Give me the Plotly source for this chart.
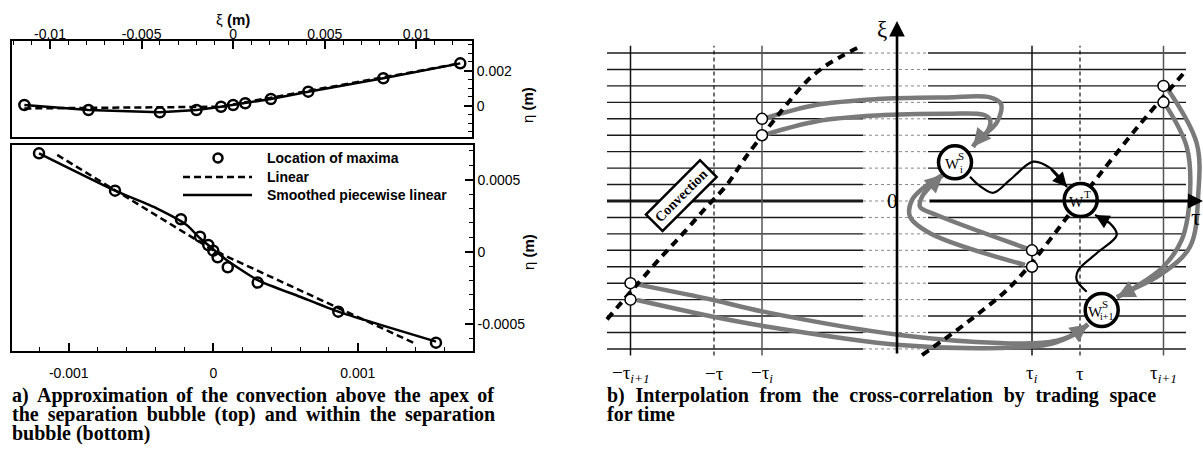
import plotly.graph_objects as go

# ---------------- Panel a) data ----------------
top_xi = [-0.0114, -0.0079, -0.0040, -0.0020, -0.00066, 0.0, 0.00066, 0.00206, 0.0041, 0.0082, 0.0124]
top_eta = [0.00004, -0.00025, -0.00038, -0.00025, -0.00006, 0.00004, 0.00014, 0.00038, 0.0008, 0.00157, 0.00242]
top_lin_xi = [-0.0114, -0.00066, 0.0124]
top_lin_eta = [-0.00016, -0.00006, 0.00242]

bot_xi = [-0.001206, -0.00068, -0.000224, -0.000092, -0.000035, 0.0, 0.00003, 0.0001, 0.000307, 0.000865, 0.001541]
bot_eta = [0.000683, 0.000424, 0.000225, 0.000104, 0.0000465, 0.000007, -0.000039, -0.000108, -0.000215, -0.000417, -0.000632]
bot_lin_xi = [-0.00108, 0.0, 0.001384]
bot_lin_eta = [0.000672, 0.00001, -0.000632]
bot_smooth_xi = [-0.001206, -0.00068, -0.000392, -0.000184, -0.000092, 0.0, 0.000092, 0.000307, 0.0006, 0.000865, 0.001541]
bot_smooth_eta = [0.000683, 0.000424, 0.000301, 0.000185, 0.000093, 0.000017, -0.000058, -0.000197, -0.000313, -0.000417, -0.000625]

top_x_tickvals = [-0.01, -0.005, 0, 0.005, 0.01]
top_x_ticktext = ["-0.01", "-0.005", "0", "0.005", "0.01"]
top_y_tickvals = [0, 0.002]
top_y_ticktext = ["0", "0.002"]
bot_x_tickvals = [-0.001, 0, 0.001]
bot_x_ticktext = ["-0.001", "0", "0.001"]
bot_y_tickvals = [-0.0005, 0, 0.0005]
bot_y_ticktext = ["-0.0005", "0", "0.0005"]

legend_labels = ["Location of maxima", "Linear", "Smoothed piecewise linear"]

# ---------------- Panel b) schematic data (tau units, xi grid levels) ----------------
tau_tick_vals = [-2.665, -1.83, -1.35, 1.35, 1.83, 2.665]
tau_tick_text = ["−τ<sub><i>i+1</i></sub>", "−τ", "−τ<sub><i>i</i></sub>",
                 "τ<sub><i>i</i></sub>", "τ", "τ<sub><i>i+1</i></sub>"]
tau_tick_dashed = [False, True, False, False, True, False]
tau_tick_color = ["#111111", "#111111", "#555555", "#111111", "#111111", "#555555"]
xi_levels = [-9, -8, -7, -6, -5, -4, -3, -2, -1, 0, 1, 2, 3, 4, 5, 6, 7, 8, 9]

circ_tau = [-2.665, -2.665, -1.35, -1.35, 1.35, 1.35, 2.665, 2.665]
circ_xi = [-5, -6, 5, 4, -3, -4, 7, 6]

conv_left_tau = [-2.90, -2.37, -2.137, -1.903, -1.703, -1.52, -1.27, -1.10, -0.90, -0.72, -0.54, -0.37]
conv_left_xi = [-7.2, -3.49, -1.96, -0.35, 0.97, 2.6, 4.6, 5.9, 7.3, 8.2, 8.85, 9.39]
conv_right_tau = [0.25, 0.60, 0.86, 1.10, 1.33, 1.53, 1.73, 2.0, 2.40, 2.88]
conv_right_xi = [-9.37, -7.85, -6.63, -5.41, -3.9, -2.35, -0.75, 1.4, 4.45, 7.86]

# gray "trading space for time" paths
ga1_tau = [-1.31, -0.8, -0.2, 0.5, 0.93, 1.04, 1.0, 0.82, 0.76]
ga1_xi = [5.05, 5.85, 6.2, 6.3, 6.3, 5.9, 4.8, 3.75, 3.3]
ga2_tau = [-1.31, -0.8, -0.2, 0.5, 0.86, 0.93, 0.9, 0.80, 0.76]
ga2_xi = [4.05, 4.85, 5.2, 5.3, 5.25, 4.95, 4.2, 3.65, 3.3]

gb1_tau = [-2.60, -1.837, -1.337, 0.03, 1.03, 1.53, 1.78, 1.91]
gb1_xi = [-5.07, -6.02, -6.73, -8.15, -8.64, -8.58, -8.09, -7.5]
gb2_tau = [-2.60, -1.837, -1.337, 0.03, 1.03, 1.53, 1.78, 1.91]
gb2_xi = [-6.02, -7.04, -7.60, -8.76, -8.94, -8.7, -8.09, -7.5]

gc1_tau = [2.713, 2.997, 3.013, 2.93, 2.63, 2.33, 2.20]
gc1_xi = [6.75, 3.51, 0.47, -2.78, -4.5, -5.45, -5.85]
gc2_tau = [2.697, 2.897, 2.93, 2.847, 2.663, 2.38, 2.20]
gc2_xi = [5.74, 3.30, 0.47, -2.37, -4.0, -5.25, -5.85]

gd1_tau = [1.297, 0.397, 0.23, 0.25, 0.33, 0.46]
gd1_xi = [-2.88, -0.85, -0.35, 0.26, 0.87, 1.6]
gd2_tau = [1.28, 0.33, 0.13, 0.15, 0.28, 0.46]
gd2_xi = [-3.89, -1.96, -0.95, 0.06, 0.87, 1.6]

# black wavy arrows
be_tau = [0.73, 0.83, 0.963, 1.13, 1.363, 1.53, 1.70]
be_xi = [1.48, 0.91, 0.50, 1.28, 2.39, 2.01, 0.85]
bf_tau = [1.897, 1.797, 1.813, 1.997, 2.197, 2.13, 1.98]
bf_xi = [-5.52, -4.8, -4.2, -3.18, -2.07, -1.36, -0.85]

node_tau = [0.58, 1.837, 2.047]
node_xi = [2.35, 0.06, -6.63]

SERIF = "Liberation Serif"
SANS = "Liberation Sans"
GRAY = "#7a7a7a"
HAIR = "\u200a"
THIN = "\u2009"

fig = go.Figure()

# ---- top panel ----
fig.add_trace(go.Scatter(x=top_lin_xi, y=top_lin_eta, mode="lines",
                         line=dict(color="black", width=2.5, dash="7px,4px"),
                         xaxis="x", yaxis="y", showlegend=False))
fig.add_trace(go.Scatter(x=top_xi, y=top_eta, mode="lines",
                         line=dict(color="black", width=2.5),
                         xaxis="x", yaxis="y", showlegend=False))
fig.add_trace(go.Scatter(x=top_xi, y=top_eta, mode="markers",
                         marker=dict(symbol="circle-open", size=10, color="black", line=dict(width=2.5)),
                         xaxis="x", yaxis="y", showlegend=False))

# ---- bottom panel ----
fig.add_trace(go.Scatter(x=bot_lin_xi, y=bot_lin_eta, mode="lines",
                         line=dict(color="black", width=2.5, dash="7px,4px"),
                         xaxis="x2", yaxis="y2", showlegend=False))
fig.add_trace(go.Scatter(x=bot_smooth_xi, y=bot_smooth_eta, mode="lines",
                         line=dict(color="black", width=2.5, shape="spline", smoothing=0.6),
                         xaxis="x2", yaxis="y2", showlegend=False))
fig.add_trace(go.Scatter(x=bot_xi, y=bot_eta, mode="markers",
                         marker=dict(symbol="circle-open", size=10, color="black", line=dict(width=2.5)),
                         xaxis="x2", yaxis="y2", showlegend=False))

# ---- schematic ----
def ds(**kw):
    return dict(xaxis="x3", yaxis="y3", showlegend=False, hoverinfo="skip", **kw)

for t, x in [(ga1_tau, ga1_xi), (ga2_tau, ga2_xi), (gb1_tau, gb1_xi), (gb2_tau, gb2_xi),
             (gc1_tau, gc1_xi), (gc2_tau, gc2_xi), (gd1_tau, gd1_xi), (gd2_tau, gd2_xi)]:
    fig.add_trace(go.Scatter(x=t, y=x, mode="lines",
                             line=dict(color=GRAY, width=4.5, shape="spline", smoothing=1.0), **ds()))

fig.add_trace(go.Scatter(x=conv_left_tau, y=conv_left_xi, mode="lines",
                         line=dict(color="black", width=4, dash="8px,6px", shape="spline"), **ds()))
fig.add_trace(go.Scatter(x=conv_right_tau, y=conv_right_xi, mode="lines",
                         line=dict(color="black", width=4, dash="8px,6px", shape="spline"), **ds()))

for t, x in [(be_tau, be_xi), (bf_tau, bf_xi)]:
    fig.add_trace(go.Scatter(x=t, y=x, mode="lines",
                             line=dict(color="black", width=2.2, shape="spline", smoothing=1.0), **ds()))

fig.add_trace(go.Scatter(x=circ_tau, y=circ_xi, mode="markers",
                         marker=dict(symbol="circle", size=11, color="white", line=dict(color="black", width=1.5)),
                         **ds()))
fig.add_trace(go.Scatter(x=node_tau, y=node_xi, mode="markers",
                         marker=dict(symbol="circle", size=33, color="white", line=dict(color="black", width=3.5)),
                         **ds()))

shapes = []
annotations = []


def ann(**kw):
    kw.setdefault("xanchor", "center")
    kw.setdefault("yanchor", "middle")
    kw.setdefault("showarrow", False)
    annotations.append(kw)


# grid lines
grid_left, gap_left, gap_right, grid_right = -2.90, -0.34, 0.31, 2.89
for lv in xi_levels:
    w = 3 if lv == 0 else 1.4
    shapes.append(dict(type="line", xref="x3", yref="y3", x0=grid_left, x1=gap_left, y0=lv, y1=lv,
                       line=dict(color="#1a1a1a", width=w), layer="below"))
    shapes.append(dict(type="line", xref="x3", yref="y3", x0=gap_left, x1=gap_right, y0=lv, y1=lv,
                       line=dict(color="#888888", width=1, dash="dot"), layer="below"))
    if lv != 0:
        shapes.append(dict(type="line", xref="x3", yref="y3", x0=gap_right, x1=grid_right, y0=lv, y1=lv,
                           line=dict(color="#1a1a1a", width=w), layer="below"))

for tv, dashed, col in zip(tau_tick_vals, tau_tick_dashed, tau_tick_color):
    shapes.append(dict(type="line", xref="x3", yref="y3", x0=tv, x1=tv, y0=-9.4, y1=9.45,
                       line=dict(color=col, width=1.2 if dashed else 1.5, dash="4px,3px" if dashed else "solid"),
                       layer="below"))

for tv, txt in zip(tau_tick_vals, tau_tick_text):
    ann(x=tv, y=-10.5, xref="x3", yref="y3", text=txt,
        font=dict(family=SERIF, size=19, color="black"))

# axes arrows
ann(x=0, y=10.95, ax=0, ay=-9.37, xref="x3", yref="y3", axref="x3", ayref="y3",
    text="", showarrow=True, arrowhead=2, arrowsize=1.2, arrowwidth=2.6, arrowcolor="black")
ann(x=3.06, y=0, ax=gap_right, ay=0, xref="x3", yref="y3", axref="x3", ayref="y3",
    text="", showarrow=True, arrowhead=2, arrowsize=1.0, arrowwidth=3, arrowcolor="black")
ann(x=-0.15, y=10.45, xref="x3", yref="y3", text="ξ", font=dict(family=SERIF, size=23, color="black"))
ann(x=2.99, y=-0.95, xref="x3", yref="y3", text="τ", font=dict(family=SERIF, size=24, color="black"))
ann(x=-0.045, y=0, xref="x3", yref="y3", text="0", font=dict(family=SERIF, size=21, color="black"))

ann(x=-2.16, y=0.30, xref="x3", yref="y3", text="<b>Convection</b>",
    textangle=-45, font=dict(family=SERIF, size=14, color="black"),
    bgcolor="white", bordercolor="black", borderwidth=2.5, borderpad=3)

# arrowheads of gray paths
for t, x in [(ga1_tau, ga1_xi), (gb1_tau, gb1_xi), (gc1_tau, gc1_xi), (gd1_tau, gd1_xi)]:
    ann(x=t[-1], y=x[-1], ax=t[-2], ay=x[-2], xref="x3", yref="y3", axref="x3", ayref="y3",
        text="", showarrow=True, arrowhead=2, arrowsize=0.8, arrowwidth=4.5, arrowcolor=GRAY)
for t, x in [(be_tau, be_xi), (bf_tau, bf_xi)]:
    ann(x=t[-1], y=x[-1], ax=t[-2], ay=x[-2], xref="x3", yref="y3", axref="x3", ayref="y3",
        text="", showarrow=True, arrowhead=2, arrowsize=1.3, arrowwidth=2.2, arrowcolor="black")

# node labels
node_main = ["W", "W", "W"]
node_sup = ["S", "T", "S"]
node_sub = ["i", "", "i+1"]
main_shift = [-3, -4, -6]
sup_shift = [9, 11, 9]
for tv, xv, m, sp, sb, ms, ss in zip(node_tau, node_xi, node_main, node_sup, node_sub, main_shift, sup_shift):
    ann(x=tv, y=xv, xref="x3", yref="y3", text=m, xshift=ms, yshift=-2,
        font=dict(family=SERIF, size=15, color="black"))
    ann(x=tv, y=xv, xref="x3", yref="y3", text=sp, xshift=ms + ss, yshift=6,
        font=dict(family=SERIF, size=11, color="black"))
    if sb:
        ann(x=tv, y=xv, xref="x3", yref="y3", text=sb,
            xshift=ms + 9 + (2 if len(sb) > 1 else 0), yshift=-7,
            font=dict(family=SERIF, size=10, color="black"))

# ---- panel a) labels and legend ----
ann(x=233 / 1203, y=1 - 19 / 452, xref="paper", yref="paper", text="ξ <b>(m)</b>",
    font=dict(family=SANS, size=15, color="black"))
for yy in [105, 252]:
    ann(x=528 / 1203, y=1 - yy / 452, xref="paper", yref="paper", text="η <b>(m)</b>",
        textangle=-90, font=dict(family=SANS, size=15, color="black"))

leg_y = [158, 177, 195]
for lbl, yy in zip(legend_labels, leg_y):
    ann(x=265 / 1203, y=1 - yy / 452, xref="paper", yref="paper", text="<b>" + lbl + "</b>",
        xanchor="left", font=dict(family=SANS, size=14, color="black"))
shapes.append(dict(type="circle", xref="paper", yref="paper", xsizemode="pixel", ysizemode="pixel",
                   xanchor=218 / 1203, yanchor=1 - 158 / 452, x0=-4.5, x1=4.5, y0=-4.5, y1=4.5,
                   line=dict(color="black", width=2.5)))
shapes.append(dict(type="line", xref="paper", yref="paper", x0=183 / 1203, x1=252 / 1203,
                   y0=1 - 177 / 452, y1=1 - 177 / 452, line=dict(color="black", width=2.5, dash="7px,4px")))
shapes.append(dict(type="line", xref="paper", yref="paper", x0=183 / 1203, x1=252 / 1203,
                   y0=1 - 195 / 452, y1=1 - 195 / 452, line=dict(color="black", width=2.5)))

# captions (extra thin spaces imitate justified text)
cap_a = ["a) Approximation of the convection above the apex of",
         "the separation bubble (top) and within the separation",
         "bubble (bottom)"]
cap_a_pad = [HAIR + HAIR, THIN, ""]
cap_b = ["b) Interpolation from the cross-correlation by trading space",
         "for time"]
cap_b_pad = [THIN + HAIR, ""]
cap_y = [395, 414, 433]
for txt, pad, yy in zip(cap_a, cap_a_pad, cap_y):
    ann(x=10 / 1203, y=1 - yy / 452, xref="paper", yref="paper",
        text="<b>" + txt.replace(" ", " " + pad) + "</b>",
        xanchor="left", font=dict(family=SERIF, size=20, color="black"))
for txt, pad, yy in zip(cap_b, cap_b_pad, cap_y):
    ann(x=605 / 1203, y=1 - yy / 452, xref="paper", yref="paper",
        text="<b>" + txt.replace(" ", " " + pad) + "</b>",
        xanchor="left", font=dict(family=SERIF, size=20, color="black"))

tickfont = dict(family=SANS, size=14, color="black")
common = dict(showgrid=False, zeroline=False, showline=True, linecolor="black", linewidth=2, mirror=True,
              ticks="inside", ticklen=8, tickwidth=1.5, tickcolor="black", tickfont=tickfont, tickmode="array")

fig.update_layout(
    width=1203, height=452, autosize=False,
    margin=dict(l=0, r=0, t=0, b=0),
    paper_bgcolor="white", plot_bgcolor="rgba(0,0,0,0)",
    xaxis=dict(domain=[11.7 / 1203, 472 / 1203], range=[-0.01209, 0.01304], side="top",
               tickvals=top_x_tickvals, ticktext=top_x_ticktext, ticklabelstandoff=-6,
               minor=dict(ticks="inside", dtick=0.001, ticklen=4, tickcolor="black", tickwidth=1.2), **common),
    yaxis=dict(domain=[1 - 137.3 / 452, 1 - 41 / 452], range=[-0.00181, 0.0037], side="right",
               tickvals=top_y_tickvals, ticktext=top_y_ticktext,
               minor=dict(ticks="inside", dtick=0.0005, ticklen=4, tickcolor="black", tickwidth=1.2), **common),
    xaxis2=dict(domain=[11.7 / 1203, 472.7 / 1203], range=[-0.001395, 0.001795], anchor="y2",
                tickvals=bot_x_tickvals, ticktext=bot_x_ticktext, ticklabelstandoff=8,
                minor=dict(ticks="inside", dtick=0.0002, ticklen=4, tickcolor="black", tickwidth=1.2), **common),
    yaxis2=dict(domain=[1 - 350.7 / 452, 1 - 145 / 452], range=[-0.000688, 0.000741], side="right", anchor="x2",
                tickvals=bot_y_tickvals, ticktext=bot_y_ticktext,
                minor=dict(ticks="inside", dtick=0.0001, ticklen=4, tickcolor="black", tickwidth=1.2), **common),
    xaxis3=dict(domain=[590 / 1203, 1], range=[-3.07, 3.06], visible=False, anchor="y3"),
    yaxis3=dict(domain=[0, 1], range=[-15.268, 12.226], visible=False, anchor="x3"),
    shapes=shapes, annotations=annotations,
)

fig.write_html("out.html", config={"displayModeBar": False},
               post_script="document.body.style.margin='0px';document.body.style.padding='0px';"
                           "document.body.style.overflow='hidden';")
